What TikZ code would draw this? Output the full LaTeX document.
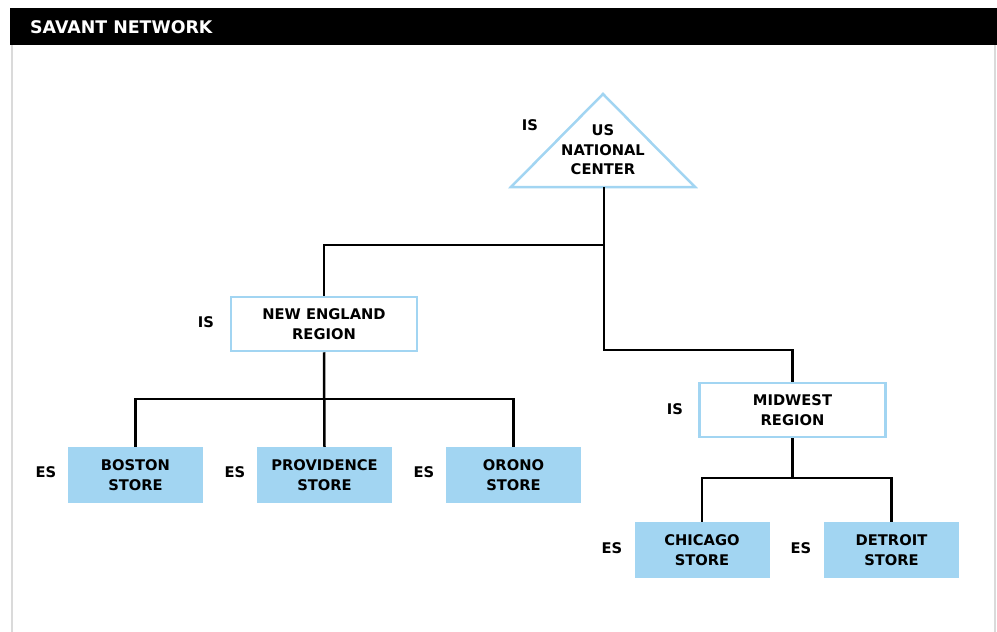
\documentclass[tikz,border=0pt]{standalone}
\usepackage{fontspec}
\setmainfont{DejaVu Sans}
\usetikzlibrary{positioning}
\definecolor{savblue}{RGB}{162,213,242}
\definecolor{framegray}{RGB}{218,218,218}
\tikzset{
	txt/.style={font=\fontsize{14.7}{19.5}\selectfont\bfseries, align=center, inner sep=0pt},
	region/.style={txt, draw=savblue, line width=2.5pt, fill=white, minimum width=186pt, minimum height=54pt},
	store/.style={txt, fill=savblue, minimum width=135pt, minimum height=56pt},
	tag/.style={font=\fontsize{14.7}{17}\selectfont\bfseries, inner sep=0pt},
	link/.style={black, line width=2.5pt}
}
\begin{document}
\begin{tikzpicture}[x=1pt, y=-1pt]
		\useasboundingbox (0,0) rectangle (997,632);

		% Marco y titulo
		\draw[color=framegray, line width=2.5pt] (12,45) -- (12,632);
		\draw[color=framegray, line width=2.5pt] (995,45) -- (995,632);
		\fill[color=black] (10,8) rectangle (997,45);
		\node[font=\fontsize{17.4}{20}\selectfont\bfseries, text=white, anchor=west, inner sep=0pt] (title) at (30,27) {SAVANT NETWORK};

		% Centro nacional (triangulo)
		\draw[color=savblue, line width=2.5pt, line join=miter] (603,94) -- (695,187) -- (511,187) -- cycle;
		\node[txt] (us) at (603,150) {US\\NATIONAL\\CENTER};
		\coordinate (usbase) at (604,187);
		\node[tag] (isus) at (530,125) {IS};

		% Regiones
		\node[region] (ne) at (324,324) {NEW ENGLAND\\REGION};
		\node[region] (mw) at (792.5,410) {MIDWEST\\REGION};
		\node[tag] (isne) at (206,322) {IS};
		\node[tag] (ismw) at (675,409) {IS};

		% Tiendas
		\node[store] (boston) at (135.5,475) {BOSTON\\STORE};
		\node[store] (providence) at (324.5,475) {PROVIDENCE\\STORE};
		\node[store] (orono) at (513.5,475) {ORONO\\STORE};
		\node[store] (chicago) at (702,550) {CHICAGO\\STORE};
		\node[store] (detroit) at (891.5,550) {DETROIT\\STORE};
		\node[tag] (esboston) at (46,472) {ES};
		\node[tag] (esprovidence) at (235,472) {ES};
		\node[tag] (esorono) at (424,472) {ES};
		\node[tag] (eschicago) at (612,548) {ES};
		\node[tag] (esdetroit) at (801,548) {ES};

		% Lineas de conexion
		\coordinate (bustop) at (0,245);
		\coordinate (busmid) at (0,350);
		\coordinate (busne) at (0,399);
		\coordinate (busmw) at (0,478);
		\draw[link] (usbase) -- (usbase |- bustop) -| (ne.north);
		\draw[link] (usbase |- bustop) -- (usbase |- busmid) -| (mw.north);
		\draw[link] (ne.south) -- (providence.north);
		\draw[link] (boston.north) |- (ne.south |- busne) -| (orono.north);
		\draw[link] (mw.south) -- (mw.south |- busmw);
		\draw[link] (chicago.north) |- (mw.south |- busmw) -| (detroit.north);
	\end{tikzpicture}
\end{document}
